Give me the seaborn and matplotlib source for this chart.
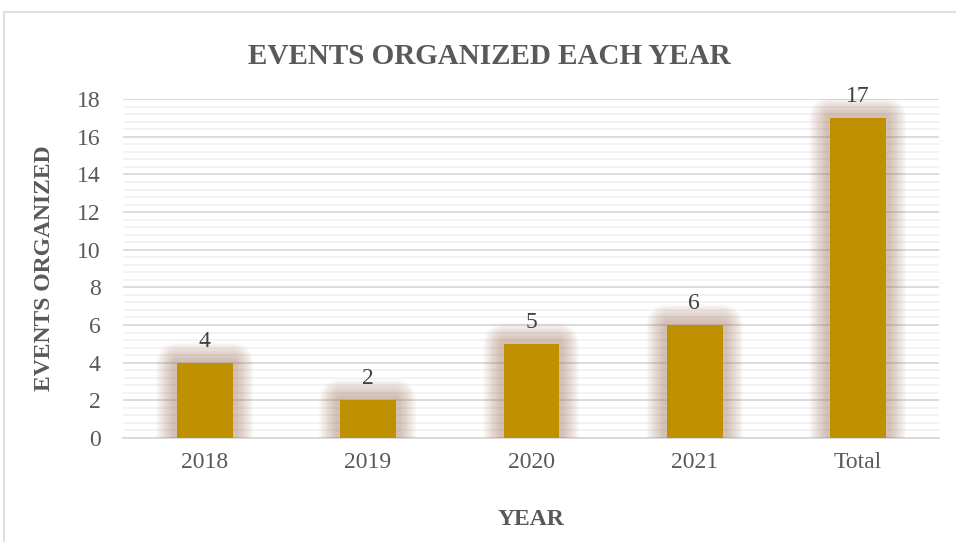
import matplotlib
matplotlib.use("Agg")
import matplotlib.pyplot as plt
import matplotlib.patheffects as pe
from matplotlib.patches import Rectangle
from matplotlib.ticker import MultipleLocator
import seaborn as sns
import pandas as pd

# data
years = ["2018", "2019", "2020", "2021", "Total"]
events = [4, 2, 5, 6, 17]

df = pd.DataFrame({"year": years, "events": events})

sns.set_theme(style="white")
plt.rcParams['font.family'] = ['Liberation Serif', 'DejaVu Serif']

fig = plt.figure(figsize=(9.56, 5.42), dpi=100)
ax = fig.add_axes([0.1285, 0.192, 0.854, 0.625])

bar_col = "#BF9000"
glow_col = "#A87A62"

sns.barplot(data=df, x="year", y="events", color=bar_col, width=0.335,
            saturation=1, ax=ax, zorder=3)

# soft glow around the bars (stacked translucent strokes)
glow = []
for w in range(30, 5, -2):
    glow.append(pe.withStroke(linewidth=w, foreground=glow_col, alpha=0.045,
                              joinstyle="round"))
glow.append(pe.Normal())
for p in ax.patches:
    p.set_path_effects(glow)
    p.set_edgecolor(bar_col)
    p.set_linewidth(0.5)

ax.bar_label(ax.containers[0], fontsize=17, color="#404040", padding=8)

ax.set_ylim(0, 18)
ax.yaxis.set_major_locator(MultipleLocator(2))
ax.yaxis.set_minor_locator(MultipleLocator(0.4))
ax.grid(axis="y", which="major", color="#D9D9D9", linewidth=1.3, zorder=0)
ax.grid(axis="y", which="minor", color="#F0F0F0", linewidth=1.1, zorder=0)
ax.set_axisbelow(True)
for s in ["top", "right", "left"]:
    ax.spines[s].set_visible(False)
ax.spines["bottom"].set_color("#D9D9D9")
ax.spines["bottom"].set_linewidth(1.3)

ax.tick_params(axis="both", labelsize=17, labelcolor="#595959", length=0)
ax.tick_params(axis="y", pad=16)
ax.tick_params(axis="x", pad=10)

ax.set_xlabel("YEAR", fontsize=17, fontweight="bold", color="#595959", labelpad=26)
ax.set_ylabel("EVENTS ORGANIZED", fontsize=17, fontweight="bold", color="#595959", labelpad=16)
fig.text(0.512, 0.896, "EVENTS ORGANIZED EACH YEAR", ha="center", va="center",
         fontsize=21, fontweight="bold", color="#595959")

# chart border
fig.patches.append(Rectangle((0.004, -0.05), 1.2, 1.028, transform=fig.transFigure,
                             fill=False, edgecolor="#D9D9D9", linewidth=1.2))

fig.savefig("out.png", dpi=100, facecolor="white")
